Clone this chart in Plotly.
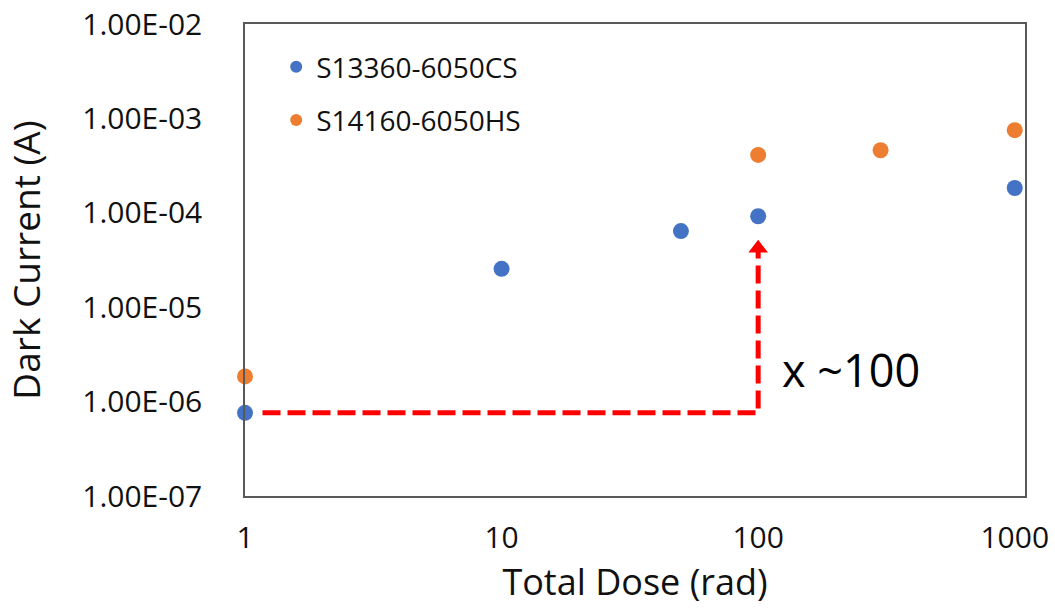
import plotly.graph_objects as go

# Data
dose_cs = [1, 10, 50, 100, 1000]
current_cs = [7.6e-7, 2.55e-5, 6.4e-5, 9.2e-5, 1.83e-4]
dose_hs = [1, 100, 300, 1000]
current_hs = [1.85e-6, 4.1e-4, 4.6e-4, 7.5e-4]

name_cs = "S13360-6050CS"
name_hs = "S14160-6050HS"

x_ticks = [1, 10, 100, 1000]
x_tick_text = ["1", "10", "100", "1000"]
y_ticks = [1e-7, 1e-6, 1e-5, 1e-4, 1e-3, 1e-2]
y_tick_text = ["1.00E-07", "1.00E-06", "1.00E-05", "1.00E-04", "1.00E-03", "1.00E-02"]

# annotation path (x ~100 increase)
arrow_x = [1.17, 100, 100]
arrow_y = [7.6e-7, 7.6e-7, 4.2e-5]
arrow_label = "x ~100"

FONT = "Open Sans, Lato, sans-serif"

fig = go.Figure()
fig.add_trace(go.Scatter(
    x=arrow_x, y=arrow_y, mode="lines", showlegend=False, hoverinfo="skip",
    line=dict(color="#FF0000", width=5, dash="18px,7px"),
))
fig.add_trace(go.Scatter(
    x=[arrow_x[-1]], y=[arrow_y[-1]], mode="markers", showlegend=False, hoverinfo="skip",
    marker=dict(symbol="triangle-up", size=17, color="#FF0000"),
))
fig.add_trace(go.Scatter(
    x=dose_cs, y=current_cs, mode="markers", name=name_cs, legendgroup="a",
    marker=dict(color="#4472C4", size=16), cliponaxis=False,
))
fig.add_trace(go.Scatter(
    x=dose_hs, y=current_hs, mode="markers", name=name_hs, legendgroup="b",
    marker=dict(color="#ED7D31", size=16), cliponaxis=False,
))

fig.add_annotation(
    x=2.086, y=-5.655, xref="x", yref="y", text=arrow_label, showarrow=False,
    xanchor="left", yanchor="middle",
    font=dict(family=FONT, size=45, color="#000000"),
)

fig.update_xaxes(
    type="log", range=[0, 3.04], tickvals=x_ticks, ticktext=x_tick_text,
    showgrid=False, zeroline=False, showline=True, mirror=True, automargin=False,
    linecolor="#595959", linewidth=1.5, ticks="", ticklabelstandoff=14,
    tickfont=dict(family=FONT, size=30, color="#111111"),
    title=dict(text="Total Dose (rad)", standoff=6,
               font=dict(family=FONT, size=36, color="#111111")),
)
fig.update_yaxes(
    type="log", range=[-7, -2], tickvals=y_ticks, ticktext=y_tick_text,
    showgrid=False, zeroline=False, showline=True, mirror=True, automargin=False,
    linecolor="#595959", linewidth=1.5, ticks="", ticklabelstandoff=35,
    tickfont=dict(family=FONT, size=30, color="#111111"),
    title=dict(text="Dark Current (A)", standoff=30,
               font=dict(family=FONT, size=37, color="#111111")),
)

fig.update_layout(
    width=1055, height=608,
    margin=dict(l=245, r=30, t=24, b=112),
    paper_bgcolor="white", plot_bgcolor="white",
    showlegend=True,
    legend=dict(
        x=0.04, y=0.962, xanchor="left", yanchor="top",
        bgcolor="rgba(0,0,0,0)", traceorder="grouped", tracegroupgap=14,
        font=dict(family=FONT, size=28, color="#111111"),
        itemwidth=30, itemsizing="constant",
    ),
)

fig.write_html("out.html")
